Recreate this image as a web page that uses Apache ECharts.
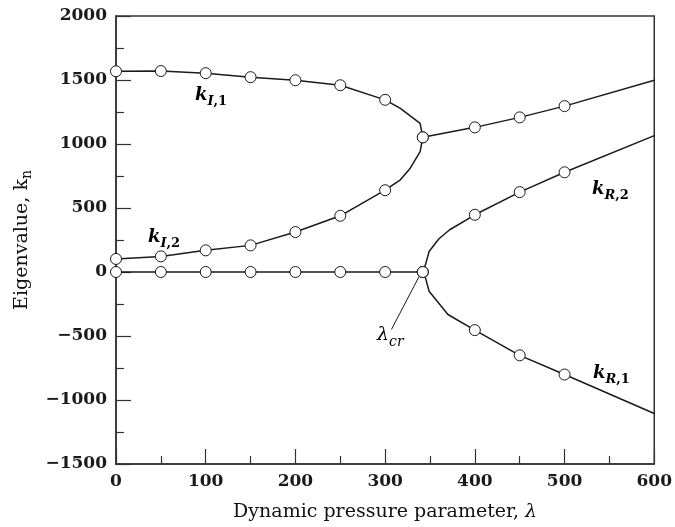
<!DOCTYPE html>
<html>
<head>
<meta charset="utf-8">
<script src="https://cdn.jsdelivr.net/npm/echarts@6.0.0/dist/echarts.min.js"></script>
<style>
  html, body { margin: 0; padding: 0; background: #fff; }
  #main { width: 675px; height: 527px; }
</style>
</head>
<body>
<div id="main"></div>
<script>
// 临界动压
var lamCr = 342;

// 虚部 k_I,1 (合并后继续到 600)
var lamI1 = [0, 50, 100, 150, 200, 250, 300, 317, 339, 342, 400, 450, 500, 600];
var valI1 = [1568, 1570, 1553, 1522, 1498, 1459, 1345, 1278, 1161, 1052, 1130, 1208, 1296, 1498];

// 虚部 k_I,2
var lamI2 = [0, 50, 100, 150, 200, 250, 300, 317, 328, 339, 342];
var valI2 = [102, 122, 169, 208, 312, 439, 639, 720, 811, 940, 1052];

// 实部为零的一段
var lamR0 = [0, 50, 100, 150, 200, 250, 300, 342];
var valR0 = [0, 0, 0, 0, 0, 0, 0, 0];

// 实部 k_R,2
var lamR2 = [342, 345, 349, 360, 372, 400, 450, 500, 600];
var valR2 = [0, 58, 160, 260, 330, 447, 624, 779, 1065];

// 实部 k_R,1
var lamR1 = [342, 345, 349, 370, 400, 450, 500, 600];
var valR1 = [0, -46, -150, -332, -454, -651, -801, -1105];

// λcr 引线
var crLeader = [[307, -449], [339, -20]];

var SERIF = 'DejaVu Serif';
var INK = '#1a1a1a';

function pairs(xs, ys) {
  return xs.map(function (x, i) { return [x, ys[i]]; });
}

// 只有计算点画圆圈 (每 50 一个, 以及 λcr), 600 处没有
function marked(v) {
  var x = v[0];
  return (x <= 500 && x % 50 === 0) || x === lamCr;
}

function lineSeries(xs, ys) {
  return {
    type: 'line',
    data: pairs(xs, ys),
    symbol: function (v) { return marked(v) ? 'circle' : 'none'; },
    symbolSize: 11,
    lineStyle: { color: INK, width: 1.5 },
    itemStyle: { color: '#fff', borderColor: INK, borderWidth: 1 },
    emphasis: { disabled: true },
    silent: true,
    animation: false
  };
}

var chart = echarts.init(document.getElementById('main'), null, { renderer: 'canvas' });

var kRich = {
  k: { fontFamily: SERIF, fontStyle: 'italic', fontWeight: 'bold', fontSize: 18, color: INK, verticalAlign: 'top' },
  si: { fontFamily: SERIF, fontStyle: 'italic', fontWeight: 'bold', fontSize: 13, color: INK, verticalAlign: 'top', padding: [9, 0, 0, 0] },
  s: { fontFamily: SERIF, fontWeight: 'bold', fontSize: 13, color: INK, verticalAlign: 'top', padding: [9, 0, 0, 0] },
  // λcr 细一些
  l: { fontFamily: SERIF, fontStyle: 'italic', fontSize: 19, color: INK, verticalAlign: 'top' },
  lc: { fontFamily: SERIF, fontStyle: 'italic', fontSize: 14, color: INK, verticalAlign: 'top', padding: [9, 0, 0, 0] }
};

function label(x, y, text) {
  return {
    type: 'text', x: x, y: y, silent: true,
    style: { text: text, rich: kRich }
  };
}

var seriesList = [
  lineSeries(lamI1, valI1),
  lineSeries(lamI2, valI2),
  lineSeries(lamR0, valR0),
  lineSeries(lamR2, valR2),
  lineSeries(lamR1, valR1)
];

// 引线
seriesList.push({
  type: 'line',
  data: crLeader,
  symbol: 'none',
  lineStyle: { color: INK, width: 1 },
  silent: true,
  animation: false,
  z: 1
});

var option = {
  backgroundColor: '#fff',
  animation: false,
  grid: {
    left: 116, right: 18, top: 16, bottom: 62,
    show: true, borderColor: '#333', borderWidth: 1.5
  },
  xAxis: {
    type: 'value',
    min: 0, max: 600, interval: 100,
    name: '{t|Dynamic pressure parameter, }{l|λ}',
    nameLocation: 'middle',
    nameGap: 39,
    nameTextStyle: {
      rich: {
        t: { fontFamily: SERIF, fontSize: 19, color: '#111' },
        l: { fontFamily: SERIF, fontStyle: 'italic', fontSize: 19, color: '#111' }
      }
    },
    axisLine: { onZero: false, lineStyle: { color: '#333', width: 1.5 } },
    axisTick: { inside: true, length: 15, lineStyle: { color: '#333', width: 1.2 } },
    minorTick: { show: true, splitNumber: 2, length: 8, lineStyle: { color: '#333', width: 1.2 } },
    splitLine: { show: false },
    axisLabel: { fontFamily: SERIF, fontWeight: 'bold', fontSize: 17, color: INK, margin: 9 }
  },
  yAxis: {
    type: 'value',
    min: -1500, max: 2000, interval: 500,
    name: '{t|Eigenvalue, k}{n|n}',
    nameLocation: 'middle',
    nameGap: 75,
    nameTextStyle: {
      rich: {
        t: { fontFamily: SERIF, fontSize: 19, color: '#111', verticalAlign: 'top' },
        n: { fontFamily: SERIF, fontSize: 14, color: '#111', verticalAlign: 'top', padding: [8, 0, 0, 0] }
      }
    },
    axisLine: { lineStyle: { color: '#333', width: 1.5 } },
    axisTick: { inside: true, length: 15, lineStyle: { color: '#333', width: 1.2 } },
    minorTick: { show: true, splitNumber: 2, length: 8, lineStyle: { color: '#333', width: 1.2 } },
    splitLine: { show: false },
    axisLabel: {
      fontFamily: SERIF, fontWeight: 'bold', fontSize: 17, color: INK, margin: 9,
      formatter: function (v) { return v < 0 ? '\u2212' + Math.abs(v) : String(v); }
    }
  },
  graphic: [
    label(195, 86, '{k|k}{si|I}{s|,1}'),
    label(148, 228, '{k|k}{si|I}{s|,2}'),
    label(592, 180, '{k|k}{si|R}{s|,2}'),
    label(593, 364, '{k|k}{si|R}{s|,1}'),
    label(377, 326, '{l|λ}{lc|cr}')
  ],
  series: seriesList
};

chart.setOption(option);
</script>
</body>
</html>
